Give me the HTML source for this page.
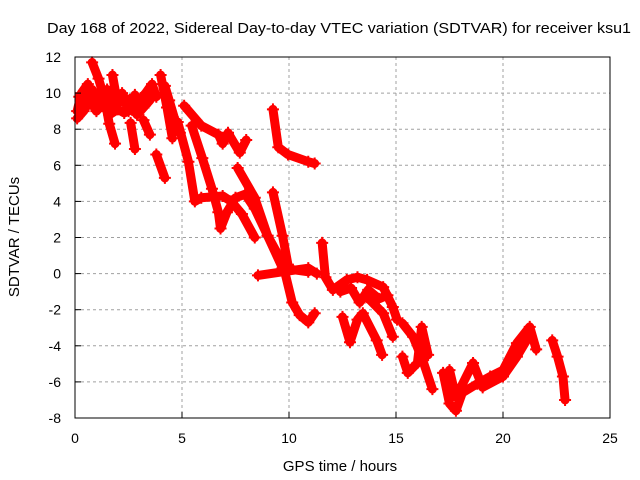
<!DOCTYPE html>
<html><head><meta charset="utf-8"><style>
body{margin:0;background:#fff}
svg{display:block;font-family:"Liberation Sans",sans-serif}
</style></head><body>
<svg width="640" height="480" id="chart">
<rect width="640" height="480" fill="#fff"/>
<text x="339" y="33" font-size="15" text-anchor="middle" textLength="584" lengthAdjust="spacingAndGlyphs">Day 168 of 2022, Sidereal Day-to-day VTEC variation (SDTVAR) for receiver ksu1</text>
<text x="19" y="237" font-size="15" text-anchor="middle" transform="rotate(-90 19 237)">SDTVAR / TECUs</text>
<text x="340" y="471" font-size="15" text-anchor="middle">GPS time / hours</text>
<g id="grid"></g>
<g id="marks"></g>
<rect x="75" y="57" width="535" height="361" fill="none" stroke="#000" stroke-width="1"/>
<g id="axes"></g>
</svg>
<script>
const xTicks=[0,5,10,15,20,25];
const yTicks=[-8,-6,-4,-2,0,2,4,6,8,10,12];
const trackA=[[0.1,9.0],[0.3,10.0],[0.6,10.5],[0.9,9.5],[1.2,10.0],[1.5,9.2],[1.8,9.8],[2.1,9.5],[2.4,9.7],[2.7,9.2],[3.0,9.6],[3.3,10.0],[3.6,10.5],[3.8,9.8]];
const trackA2=[[0.1,8.6],[0.4,9.0],[0.7,9.6],[1.0,9.0],[1.3,9.4],[1.6,8.8],[2.0,9.1],[2.3,8.9],[2.6,9.3],[2.9,8.8],[3.2,9.2],[3.5,9.6]];
const trackA3=[[0.2,9.8],[0.5,9.3],[0.8,10.2],[1.1,9.6],[1.5,10.2],[1.9,9.4],[2.2,10.0],[2.5,9.0],[2.8,9.9],[3.1,9.3],[3.4,9.8]];
const trackB=[[0.8,11.7],[1.1,10.8],[1.4,9.6],[1.6,8.3],[1.87,7.2]];
const trackC=[[1.75,11.0],[1.9,10.0]];
const trackD=[[2.6,8.35],[2.8,6.9]];
const trackE=[[3.2,8.5],[3.5,7.7]];
const trackF=[[3.8,6.6],[4.2,5.3]];
const trackG=[[4.0,11.0],[4.3,9.2],[4.55,7.5]];
const trackG2=[[4.2,10.4],[4.4,9.6],[4.7,8.4],[4.9,7.8]];
const trackH=[[5.1,9.3],[5.9,8.2],[6.7,7.7],[6.9,7.2],[7.15,7.8],[7.7,6.7],[8.0,7.4]];
const trackI=[[4.8,8.4],[5.3,6.2],[5.6,4.0],[5.9,4.2],[6.9,4.3],[7.3,4.0],[7.8,3.3],[8.4,2.0]];
const trackJ=[[5.45,8.2],[5.95,6.4],[6.4,4.7],[6.7,3.4],[6.8,2.5],[7.1,3.4],[7.5,4.2],[7.95,4.4],[8.4,3.6],[9.0,2.1],[9.7,0.6],[10.15,-1.6],[10.5,-2.3],[10.9,-2.7],[11.2,-2.2]];
const trackK=[[7.6,5.85],[8.4,4.2],[9.0,2.1],[9.7,0.3],[10.9,0.1]];
const trackL=[[9.25,4.5],[9.7,2.1],[9.95,0.5]];
const trackM=[[8.55,-0.1],[9.7,0.1],[10.9,0.3],[11.3,0.0]];
const trackN=[[9.25,9.1],[9.5,7.0],[9.95,6.6],[10.9,6.2],[11.2,6.1]];
const trackO=[[11.55,1.7],[11.7,-0.2],[12.05,-0.9],[12.7,-0.35],[13.2,-0.2],[13.65,-0.35],[14.4,-0.75],[14.85,-1.85],[15.05,-2.55]];
const trackO2=[[12.4,-1.0],[12.9,-0.8],[13.3,-1.6],[13.7,-0.9],[14.2,-1.4],[14.6,-1.2]];
const trackP=[[12.5,-2.4],[12.85,-3.8],[13.2,-2.55],[13.45,-2.2],[14.1,-3.7],[14.35,-4.5]];
const trackQ=[[13.65,-1.3],[14.4,-2.2],[14.85,-3.5]];
const trackR=[[15.3,-2.75],[15.8,-3.5],[16.25,-4.8],[16.7,-6.4]];
const trackS=[[15.3,-4.6],[15.55,-5.5],[16.0,-4.95],[16.2,-2.95],[16.5,-4.5]];
const trackT=[[17.2,-5.5],[17.5,-7.2],[17.8,-7.6],[18.1,-6.6],[18.8,-6.1],[19.4,-5.7],[20.0,-5.35],[20.65,-3.85],[21.25,-2.95],[21.55,-4.2]];
const trackU=[[17.5,-5.35],[17.8,-6.85],[18.6,-4.95],[19.05,-6.3],[20.0,-5.7],[20.65,-4.6],[21.1,-3.7]];
const trackV=[[22.3,-3.7],[22.55,-4.6],[22.8,-5.7],[22.9,-7.0]];
const tracks=[trackA,trackA2,trackA3,trackB,trackC,trackD,trackE,trackF,trackG,trackG2,trackH,trackI,trackJ,trackK,trackL,trackM,trackN,trackO,trackO2,trackP,trackQ,trackR,trackS,trackT,trackU,trackV];

const L=75,R=610,T=57,B=418;
const sx=t=>L+(t-0)/25*(R-L);
const sy=v=>B-(v+8)/20*(B-T);
const NS='http://www.w3.org/2000/svg';
const grid=document.getElementById('grid'),axes=document.getElementById('axes'),marks=document.getElementById('marks');
function mk(tag,attrs,parent){const e=document.createElementNS(NS,tag);for(const k in attrs)e.setAttribute(k,attrs[k]);parent.appendChild(e);return e;}
xTicks.forEach(t=>{
  const x=sx(t);
  if(t>0&&t<25){const g=mk('line',{x1:x,x2:x,y1:T,y2:B,stroke:'#a0a0a0','stroke-dasharray':'3,3'},grid);
  
  }
  const tk=mk('line',{x1:x,x2:x,y1:B,y2:B-6,stroke:'#000'},axes);
  
  
  const tx=mk('text',{x:x,y:443,'font-size':14,'text-anchor':'middle'},axes);tx.textContent=t;
  
  
});
yTicks.forEach(v=>{
  const y=sy(v);
  if(v>-8&&v<12){const g=mk('line',{x1:L,x2:R,y1:y,y2:y,stroke:'#a0a0a0','stroke-dasharray':'3,3'},grid);
  
  }
  const tk=mk('line',{x1:L,x2:L+6,y1:y,y2:y,stroke:'#000'},axes);
  
  
  const tx=mk('text',{x:61,y:y+5,'font-size':14,'text-anchor':'end'},axes);tx.textContent=v;
  
  
});
tracks.forEach(tr=>{
  const pts=tr.map(p=>sx(p[0])+','+sy(p[1])).join(' ');
  const pl=mk('polyline',{points:pts,fill:'none',stroke:'#f00','stroke-width':9,'stroke-linejoin':'round','stroke-linecap':'round'},marks);
  
  
  tr.forEach(p=>{
    const x=sx(p[0]),y=sy(p[1]);
    const m=mk('path',{d:`M${x-6},${y}H${x+6}M${x},${y-6}V${y+6}`,stroke:'#f00','stroke-width':2},marks);
    
    
  });
});
</script>
</body></html>
